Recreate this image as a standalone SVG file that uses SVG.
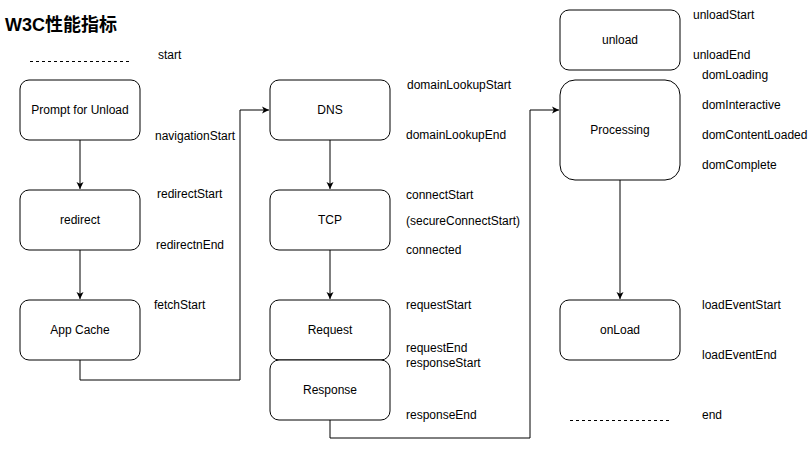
<svg xmlns="http://www.w3.org/2000/svg" width="810" height="449" viewBox="0 0 810 449">
<style>
.box{fill:#fff;stroke:#000;stroke-width:1}
.lbl{font-family:"Liberation Sans",Arial,sans-serif;font-size:12px;fill:#000}
.ctr{text-anchor:middle;dominant-baseline:central}
.edge{fill:none;stroke:#000;stroke-width:1}
.dash{stroke:#000;stroke-width:1;stroke-dasharray:3 3}
</style>
<defs>
<marker id="arr" markerWidth="8" markerHeight="8" refX="7" refY="4" orient="auto" markerUnits="userSpaceOnUse">
<path d="M0,0.5 L7,4 L0,7.5 L1.8,4 Z" fill="#000"/>
</marker>
</defs>
<rect width="810" height="449" fill="#fff"/>
<text x="5" y="31" font-family="'Liberation Sans','Noto Sans CJK SC',sans-serif" font-size="18" font-weight="bold" fill="#000">W3C性能指标</text>

<g id="connectors">
<path class="edge" d="M80,140 V189" marker-end="url(#arr)"/>
<path class="edge" d="M80,250 V299" marker-end="url(#arr)"/>
<path class="edge" d="M80,360 V380 H240 V110 H269" marker-end="url(#arr)"/>
<path class="edge" d="M330,140 V189" marker-end="url(#arr)"/>
<path class="edge" d="M330,250 V299" marker-end="url(#arr)"/>
<path class="edge" d="M330,420 V438 H530 V110 H559" marker-end="url(#arr)"/>
<path class="edge" d="M620,180 V299" marker-end="url(#arr)"/>
</g>

<g id="start-line"><line class="dash" x1="30" y1="61.5" x2="130" y2="61.5"/><text class="lbl" x="158" y="59">start</text></g>
<g id="end-line"><line class="dash" x1="570" y1="420.5" x2="670" y2="420.5"/><text class="lbl" x="702" y="419">end</text></g>

<g id="prompt"><rect class="box" x="20" y="80" width="120" height="60" rx="9"/><text class="lbl ctr" x="80" y="110">Prompt for Unload</text></g>
<g id="redirect"><rect class="box" x="20" y="190" width="120" height="60" rx="9"/><text class="lbl ctr" x="80" y="220">redirect</text></g>
<g id="appcache"><rect class="box" x="20" y="300" width="120" height="60" rx="9"/><text class="lbl ctr" x="80" y="330">App Cache</text></g>
<g id="dns"><rect class="box" x="270" y="80" width="120" height="60" rx="9"/><text class="lbl ctr" x="330" y="110">DNS</text></g>
<g id="tcp"><rect class="box" x="270" y="190" width="120" height="60" rx="9"/><text class="lbl ctr" x="330" y="220">TCP</text></g>
<g id="request"><rect class="box" x="270" y="300" width="120" height="60" rx="9"/><text class="lbl ctr" x="330" y="330">Request</text></g>
<g id="response"><rect class="box" x="270" y="360" width="120" height="60" rx="9"/><text class="lbl ctr" x="330" y="390">Response</text></g>
<g id="unload"><rect class="box" x="560" y="10" width="120" height="60" rx="9"/><text class="lbl ctr" x="620" y="40">unload</text></g>
<g id="processing"><rect class="box" x="560" y="80" width="120" height="100" rx="15"/><text class="lbl ctr" x="620" y="130">Processing</text></g>
<g id="onload"><rect class="box" x="560" y="300" width="120" height="60" rx="9"/><text class="lbl ctr" x="620" y="330">onLoad</text></g>

<g id="labels">
<text class="lbl" x="155" y="140">navigationStart</text>
<text class="lbl" x="157" y="198">redirectStart</text>
<text class="lbl" x="156" y="249">redirectnEnd</text>
<text class="lbl" x="154" y="309">fetchStart</text>
<text class="lbl" x="407" y="89">domainLookupStart</text>
<text class="lbl" x="406" y="139">domainLookupEnd</text>
<text class="lbl" x="406" y="199">connectStart</text>
<text class="lbl" x="406" y="225">(secureConnectStart)</text>
<text class="lbl" x="406" y="254">connected</text>
<text class="lbl" x="406" y="309">requestStart</text>
<text class="lbl" x="406" y="352">requestEnd</text>
<text class="lbl" x="406" y="367">responseStart</text>
<text class="lbl" x="406" y="419">responseEnd</text>
<text class="lbl" x="693" y="19">unloadStart</text>
<text class="lbl" x="693" y="59">unloadEnd</text>
<text class="lbl" x="702" y="79">domLoading</text>
<text class="lbl" x="702" y="109">domInteractive</text>
<text class="lbl" x="702" y="139">domContentLoaded</text>
<text class="lbl" x="702" y="169">domComplete</text>
<text class="lbl" x="702" y="309">loadEventStart</text>
<text class="lbl" x="702" y="359">loadEventEnd</text>
</g>
</svg>
